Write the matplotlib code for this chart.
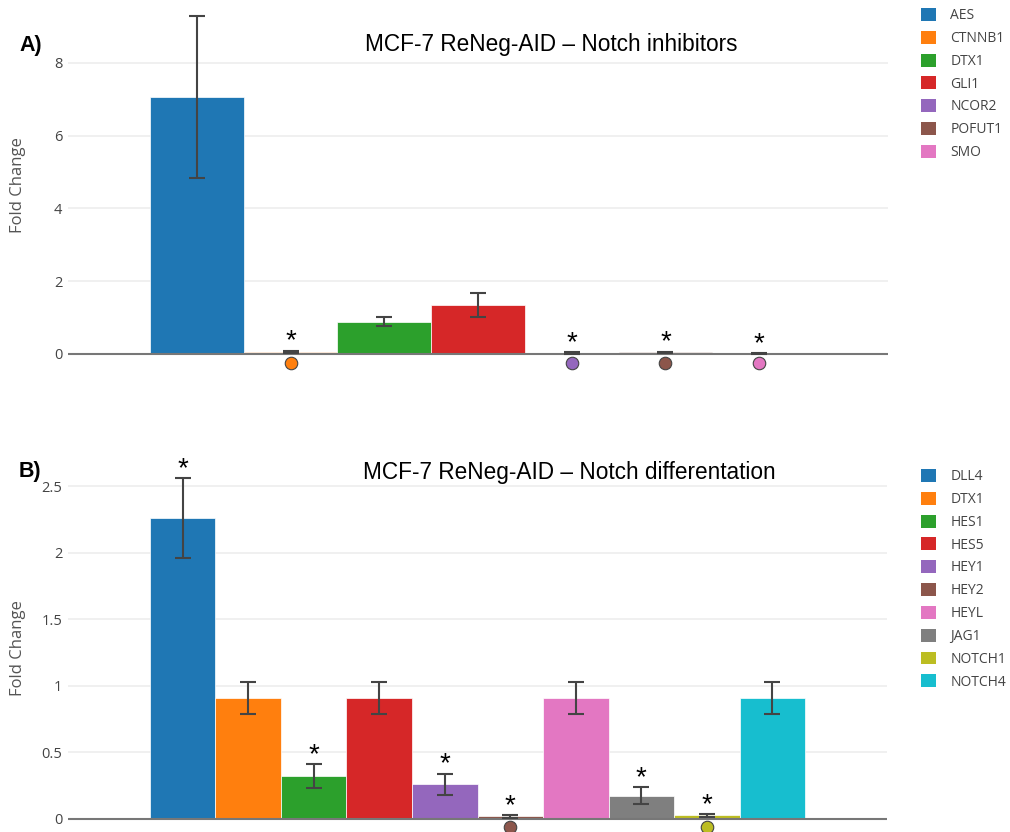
import numpy as np
import matplotlib.pyplot as plt
from matplotlib.patches import Patch

# A) Notch inhibitors
genes_a = ["AES", "CTNNB1", "DTX1", "GLI1", "NCOR2", "POFUT1", "SMO"]
fold_a = [7.05, 0.06, 0.89, 1.34, 0.03, 0.04, 0.01]
err_a = [2.23, 0.03, 0.13, 0.33, 0.02, 0.02, 0.01]
star_a = [False, True, False, False, True, True, True]
dot_a = [False, True, False, False, True, True, True]

# B) Notch differentation
genes_b = ["DLL4", "DTX1", "HES1", "HES5", "HEY1", "HEY2", "HEYL", "JAG1", "NOTCH1", "NOTCH4"]
fold_b = [2.26, 0.91, 0.32, 0.91, 0.26, 0.02, 0.91, 0.175, 0.028, 0.91]
err_b = [0.30, 0.12, 0.09, 0.12, 0.08, 0.01, 0.12, 0.065, 0.01, 0.12]
star_b = [True, False, True, False, True, True, False, True, True, False]
dot_b = [False, False, False, False, False, True, False, False, True, False]

colors = ["#1f77b4", "#ff7f0e", "#2ca02c", "#d62728", "#9467bd",
          "#8c564b", "#e377c2", "#7f7f7f", "#bcbd22", "#17becf"]

W, H = 1010, 832
fig = plt.figure(figsize=(W / 100, H / 100), dpi=100)
tick_font = "Open Sans"
title_font = "Liberation Sans"


def panel(rect, genes, fold, err, star, dot, ylim, yticks, title, letter, title_xy, letter_xy, leg_top, dot_y, ylab_y):
    l, t, r, b = rect
    ax = fig.add_axes([l / W, 1 - b / H, (r - l) / W, (b - t) / H])
    n = len(genes)
    w = 0.8 / n
    x = (np.arange(n) - (n - 1) / 2) * w
    for i in range(n):
        ax.bar(x[i], fold[i], width=w, color=colors[i], edgecolor="white",
               linewidth=0.5, zorder=2)
        ax.errorbar(x[i], fold[i], yerr=err[i], color="#444444", elinewidth=1.5,
                    capsize=5.5, capthick=1.5, zorder=3)
        if star[i]:
            ax.annotate("*", (x[i], fold[i] + err[i]), xytext=(0, 6.5),
                        textcoords="offset points", ha="center", va="center",
                        fontsize=20, family=title_font, zorder=4)
        if dot[i]:
            ax.plot(x[i], dot_y, "o", ms=9, mfc=colors[i], mec="#444444",
                    mew=0.8, zorder=4, clip_on=False)
    ax.set_xlim(-0.5, 0.5)
    ax.set_ylim(*ylim)
    ax.set_yticks(yticks)
    ax.set_yticklabels(["%g" % v for v in yticks], family=tick_font,
                       fontsize=10.5, color="#444444")
    ax.tick_params(axis="y", length=0, pad=4)
    ax.set_xticks([])
    for s in ax.spines.values():
        s.set_visible(False)
    ax.grid(axis="y", color="#eeeeee", linewidth=1.2, zorder=0)
    ax.axhline(0, color="#777777", linewidth=1.5, zorder=2.5)
    ax.set_axisbelow(True)
    ax.set_ylabel("Fold Change", family=tick_font, fontsize=12, color="#555555")
    ax.yaxis.set_label_coords((26 - l) / (r - l), (b - ylab_y) / (b - t))
    fig.text(title_xy[0] / W, 1 - title_xy[1] / H, title, ha="center", va="center",
             family=title_font, fontsize=16.3, color="black")
    fig.text(letter_xy[0] / W, 1 - letter_xy[1] / H, letter, ha="left", va="center",
             family=title_font, fontsize=15.5, fontweight="bold", color="black")
    handles = [Patch(facecolor=colors[i], edgecolor="none") for i in range(n)]
    fig.legend(handles, genes, loc="upper left",
               bbox_to_anchor=(921 / W, 1 - leg_top / H), frameon=False,
               borderpad=0, borderaxespad=0, handlelength=1.05, handleheight=1.05,
               handletextpad=1.05, labelspacing=0.55,
               prop={"family": tick_font, "size": 10}, labelcolor="#444444")
    return ax


panel((68, 10, 888, 375), genes_a, fold_a, err_a, star_a, dot_a,
      (-0.58, 9.45), [0, 2, 4, 6, 8], "MCF-7 ReNeg-AID \u2013 Notch inhibitors", "A)",
      (551, 45), (19, 45), 8, -0.26, 185)
panel((68, 455, 887, 832), genes_b, fold_b, err_b, star_b, dot_b,
      (-0.098, 2.733), [0, 0.5, 1, 1.5, 2, 2.5], "MCF-7 ReNeg-AID \u2013 Notch differentation", "B)",
      (569, 472), (19, 472), 469, -0.06, 648)

fig.savefig("out.png", dpi=100)
